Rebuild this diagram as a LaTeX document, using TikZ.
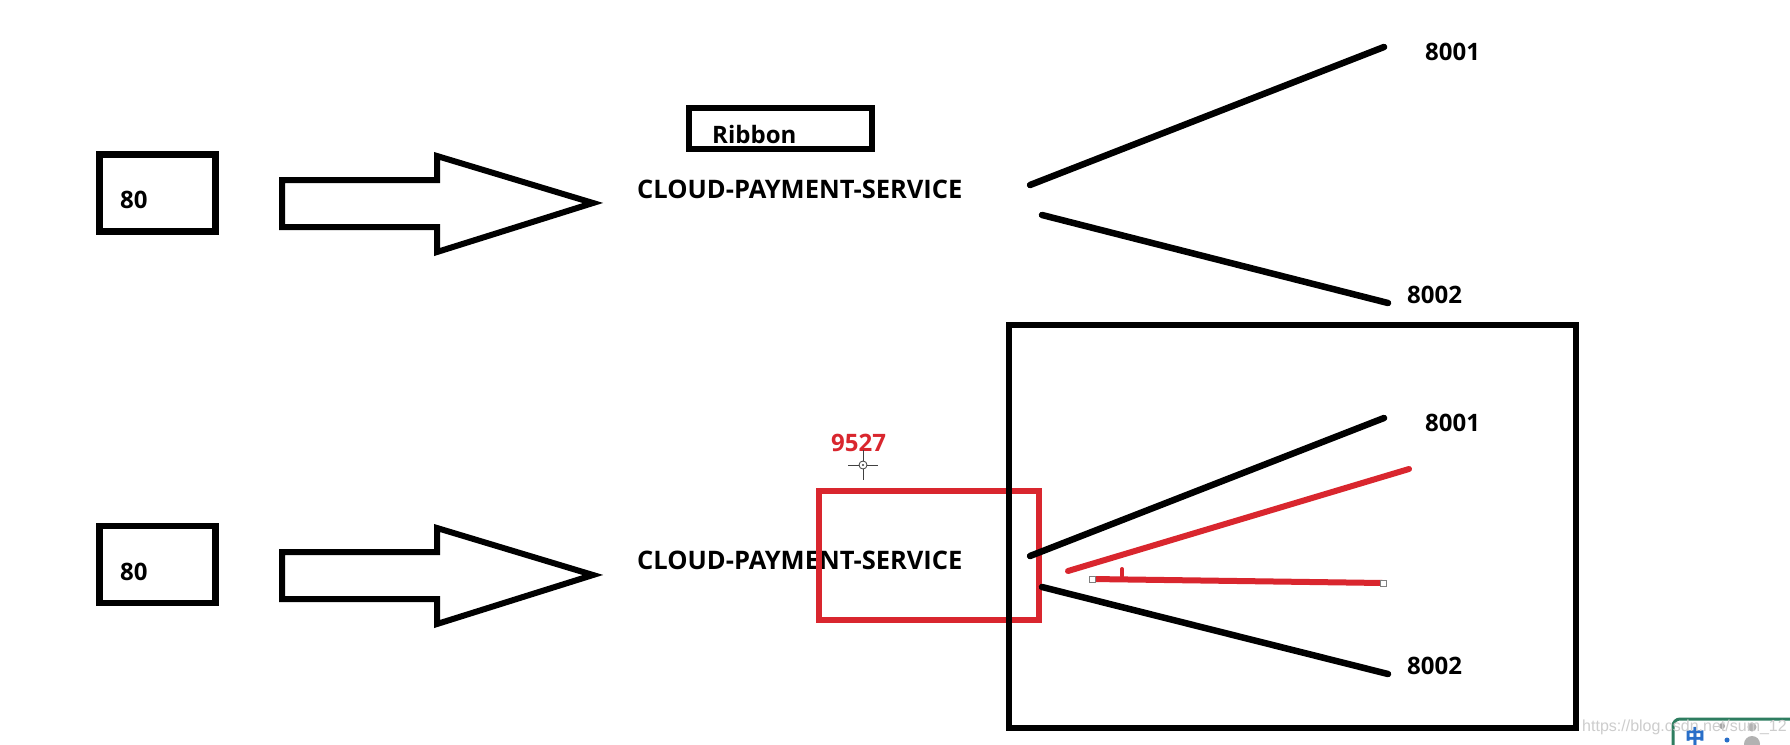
\documentclass[tikz,border=0pt]{standalone}
\usepackage{fontspec}
\setmainfont{Open Sans}
\newfontfamily\cjkfont{Noto Sans CJK SC}
\newfontfamily\wmfont{Liberation Sans}
\definecolor{mred}{RGB}{217,38,46}
\definecolor{wmgray}{RGB}{205,205,205}
\definecolor{tbgreen}{RGB}{46,125,96}
\definecolor{tbblue}{RGB}{40,110,200}
\begin{document}
\begin{tikzpicture}[x=1pt,y=-1pt,
  blk/.style={line width=6.5pt, line cap=round},
  boxline/.style={draw, line width=6.5pt},
  lbl/.style={font=\fontsize{24}{24}\selectfont\bfseries, inner sep=0pt, anchor=base west},
  svc/.style={font=\fontsize{25.5}{25.5}\selectfont\bfseries, inner sep=0pt, anchor=base west},
  bigarrow/.style={draw, line width=6pt, line join=miter, fill=white},
  redline/.style={mred, line width=6pt, line cap=round},
  handle/.style={draw=gray, fill=white, line width=0.8pt, minimum size=6pt, inner sep=0pt},
]
\useasboundingbox (0,0) rectangle (1790,744);
\clip (0,0) rectangle (1790,744);
\fill[white] (0,0) rectangle (1790,744);

% ---------- top row ----------
\draw[boxline] (99.5,154.5) rectangle (215.5,231.5);
\node[lbl] (pa) at (120,208) {80};
\draw[bigarrow] (282,180) -- (437,180) -- (437,156) -- (593,203) -- (437,252) -- (437,227) -- (282,227) -- cycle;
\draw[line width=6pt] (689,108) rectangle (872,149);
\node[lbl] (rib) at (712,143) {Ribbon};
\node[svc] (cpsa) at (637,198) {CLOUD-PAYMENT-SERVICE};
\node[lbl] (ta1) at (1425,60) {8001};
\node[lbl] (ta2) at (1407,303) {8002};
\coordinate (sa1) at (1030,185);
\coordinate (ea1) at (1384,47);
\coordinate (sa2) at (1042,215);
\coordinate (ea2) at (1388,303);
\draw[blk] (sa1) -- (ea1);
\draw[blk] (sa2) -- (ea2);

% ---------- bottom row ----------
\draw[boxline] (99.5,526) rectangle (215.5,603);
\node[lbl] (pb) at (120,580) {80};
\draw[bigarrow] (282,552) -- (437,552) -- (437,528) -- (593,575) -- (437,624) -- (437,599) -- (282,599) -- cycle;
\node[svc] (cpsb) at (637,569) {CLOUD-PAYMENT-SERVICE};
\node[lbl] (tb1) at (1425,431) {8001};
\node[lbl] (tb2) at (1407,674) {8002};

% red annotations
\draw[mred, line width=6pt] (819,491) rectangle (1039,620);
\node[lbl, text=mred] (port) at (831,451) {9527};
\coordinate (ra1) at (1068,571);
\coordinate (ra2) at (1409,469);
\coordinate (rb1) at (1092,579);
\coordinate (rb2) at (1383,583);
\draw[redline] (ra1) -- (ra2);
\draw[redline] (rb1) -- (rb2);
\draw[mred, line width=4pt, line cap=round] (1122,569) -- (1122,576);
\node[handle] (h1) at (rb1) {};
\node[handle] (h2) at (rb2) {};

% crosshair
\draw[black!75, line width=0.8pt] (848,465) -- (878,465) (863,450) -- (863,480);
\node[draw=black!75, fill=white, circle, line width=0.8pt, minimum size=8pt, inner sep=0pt] (cross) at (863,465) {};
\fill[black!75] (863,465) circle (1.2);

% big black box and black lines
\draw[line width=6pt] (1009,325) rectangle (1576,727.5);
\coordinate (sb1) at (1030,556);
\coordinate (eb1) at (1384,418);
\coordinate (sb2) at (1042,587);
\coordinate (eb2) at (1388,674);
\draw[blk] (sb1) -- (eb1);
\draw[blk] (sb2) -- (eb2);

% toolbar fragment and watermark
\draw[tbgreen, line width=3pt, rounded corners=7pt] (1673,760) -- (1673,719) -- (1800,719);
\node[font=\cjkfont\fontsize{20}{20}\selectfont\bfseries, text=tbblue, inner sep=0pt, anchor=north west] (zh) at (1685,727) {中};
\fill[gray!70] (1722,726) circle (3);
\fill[tbblue] (1727,740) circle (2.5);
\fill[gray!60] (1752,727) circle (4.5);
\fill[gray!60] (1752,744) ellipse (8 and 8);
\node[font=\wmfont\fontsize{16}{16}\selectfont, text=wmgray, inner sep=0pt, anchor=base west] (wm) at (1582,731) {https://blog.csdn.net/sum\_12};
\end{tikzpicture}
\end{document}
